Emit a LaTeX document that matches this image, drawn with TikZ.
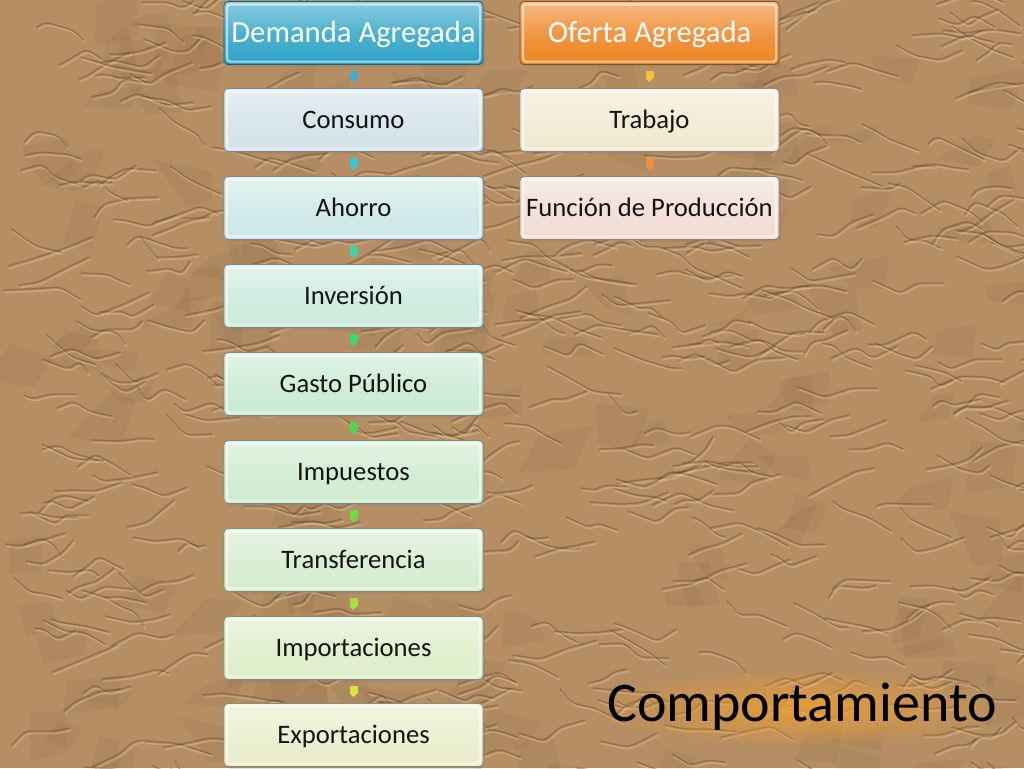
\documentclass[tikz,border=0pt]{standalone}
\usepackage{fontspec}
\setmainfont{Carlito}
\usetikzlibrary{arrows.meta,shadows,fadings}
\definecolor{bg}{HTML}{B58E64}
\definecolor{bgdark}{HTML}{5E4026}
\definecolor{bglight}{HTML}{E2C8A0}
\definecolor{cDA}{HTML}{2FA3C6}
\definecolor{cOA}{HTML}{EE8422}
\definecolor{cCons}{HTML}{D3E2E8}
\definecolor{cAho}{HTML}{CCE8E6}
\definecolor{cInv}{HTML}{CAEADC}
\definecolor{cGas}{HTML}{C9EAD3}
\definecolor{cImp}{HTML}{CDEBCE}
\definecolor{cTra}{HTML}{D5ECCD}
\definecolor{cImpo}{HTML}{DDEDC8}
\definecolor{cExp}{HTML}{E9EDCA}
\definecolor{cTrab}{HTML}{F1E8CF}
\definecolor{cFun}{HTML}{F2DCD3}
\definecolor{t1}{HTML}{45A9D0}
\definecolor{t2}{HTML}{3CC6D2}
\definecolor{t3}{HTML}{3ED2A8}
\definecolor{t4}{HTML}{3FD474}
\definecolor{t5}{HTML}{4FD652}
\definecolor{t6}{HTML}{72DA44}
\definecolor{t7}{HTML}{A6E03E}
\definecolor{t8}{HTML}{DCE23E}
\definecolor{r1}{HTML}{F2C232}
\definecolor{r2}{HTML}{F0903E}
\definecolor{glowc}{HTML}{F0A030}
\tikzfading[name=softglow, inner color=transparent!10, outer color=transparent!100]
\tikzset{
  box/.style={rectangle, rounded corners=3pt, minimum width=194.25pt, minimum height=47.25pt,
    inner sep=2pt, font=\fontsize{20}{24}\selectfont, text=black!92,
    text height=14.4pt, text depth=2pt,
    top color=#1!55!white, bottom color=#1, middle color=#1!85!white,
    draw=#1!60!black, line width=0.6pt,
    path picture={\draw[white, opacity=0.55, line width=1.6pt, rounded corners=2.5pt]
      ([shift={(2.2pt,-2.2pt)}]path picture bounding box.north west) rectangle
      ([shift={(-2.2pt,2.2pt)}]path picture bounding box.south east);},
    drop shadow={shadow xshift=1.5pt, shadow yshift=-1.5pt, opacity=0.35}},
  head/.style={box=#1, font=\fontsize{23}{27}\selectfont, text=white,
    text height=16.5pt, text depth=3pt},
  tab/.style={draw=#1, line width=6pt, shorten <=4.5pt, shorten >=4.5pt,
    -{Triangle[width=6pt,length=3pt,line width=0pt]}},
  crease/.style={bgdark, line width=1.1pt, opacity=0.38, line cap=round, line join=round, rounded corners=4pt},
  highlight/.style={bglight, line width=1.1pt, opacity=0.42, line cap=round, line join=round, rounded corners=4pt}
}
\begin{document}
\begin{tikzpicture}[x=0.75pt,y=-0.75pt]
\useasboundingbox (0,0) rectangle (1024,768);
\fill[bg] (0,0) rectangle (1024,768);
% paper texture
\pgfmathsetseed{11}
\begin{scope}
\clip (0,0) rectangle (1024,768);
\foreach \i in {1,...,160}{
  \pgfmathsetmacro{\xa}{random(0,1024)}
  \pgfmathsetmacro{\ya}{random(0,768)}
  \pgfmathsetmacro{\sa}{random(20,60)}
  \fill[bgdark, opacity=0.07] (\xa,\ya) -- ++(\sa,{random(-15,15)}) -- ++({random(-20,10)},{random(20,45)}) -- ++({-random(25,55)},{random(-10,10)}) -- cycle;
}
\foreach \i in {1,...,560}{
  \pgfmathsetmacro{\xa}{random(0,1024)}
  \pgfmathsetmacro{\ya}{random(0,768)}
  \pgfmathsetmacro{\ax}{random(8,30)}
  \pgfmathsetmacro{\ay}{random(-14,14)}
  \pgfmathsetmacro{\bx}{random(8,30)}
  \pgfmathsetmacro{\by}{random(-14,14)}
  \pgfmathsetmacro{\cx}{random(8,30)}
  \pgfmathsetmacro{\cy}{random(-14,14)}
  \draw[highlight] (\xa+1.5,\ya+2.5) -- ++(\ax,\ay) -- ++(\bx,\by) -- ++(\cx,\cy);
  \draw[crease] (\xa,\ya) -- ++(\ax,\ay) -- ++(\bx,\by) -- ++(\cx,\cy);
}
\end{scope}
% left column
\node[head=cDA] (da) at (353.5,33) {Demanda Agregada};
\node[box=cCons] (cons) at (353.5,120) {Consumo};
\node[box=cAho] (aho) at (353.5,208) {Ahorro};
\node[box=cInv] (inv) at (353.5,296) {Inversión};
\node[box=cGas] (gas) at (353.5,384) {Gasto Público};
\node[box=cImp] (imp) at (353.5,472) {Impuestos};
\node[box=cTra] (tra) at (353.5,560) {Transferencia};
\node[box=cImpo] (impo) at (353.5,648) {Importaciones};
\node[box=cExp] (exp) at (353.5,735) {Exportaciones};
% right column
\node[head=cOA] (oa) at (649.5,33) {Oferta Agregada};
\node[box=cTrab] (trab) at (649.5,120) {Trabajo};
\node[box=cFun] (fun) at (649.5,208) {Función de Producción};
% connectors
\draw[tab=t1] (da.south) -- (cons.north);
\draw[tab=t2] (cons.south) -- (aho.north);
\draw[tab=t3] (aho.south) -- (inv.north);
\draw[tab=t4] (inv.south) -- (gas.north);
\draw[tab=t5] (gas.south) -- (imp.north);
\draw[tab=t6] (imp.south) -- (tra.north);
\draw[tab=t7] (tra.south) -- (impo.north);
\draw[tab=t8] (impo.south) -- (exp.north);
\draw[tab=r1] (oa.south) -- (trab.north);
\draw[tab=r2] (trab.south) -- (fun.north);
% title with glow
\fill[glowc, path fading=softglow, opacity=0.9] (590,668) rectangle (1014,748);
\node[font=\fontsize{42}{50}\selectfont, text=black] (title) at (802,707) {Comportamiento};
\end{tikzpicture}
\end{document}
